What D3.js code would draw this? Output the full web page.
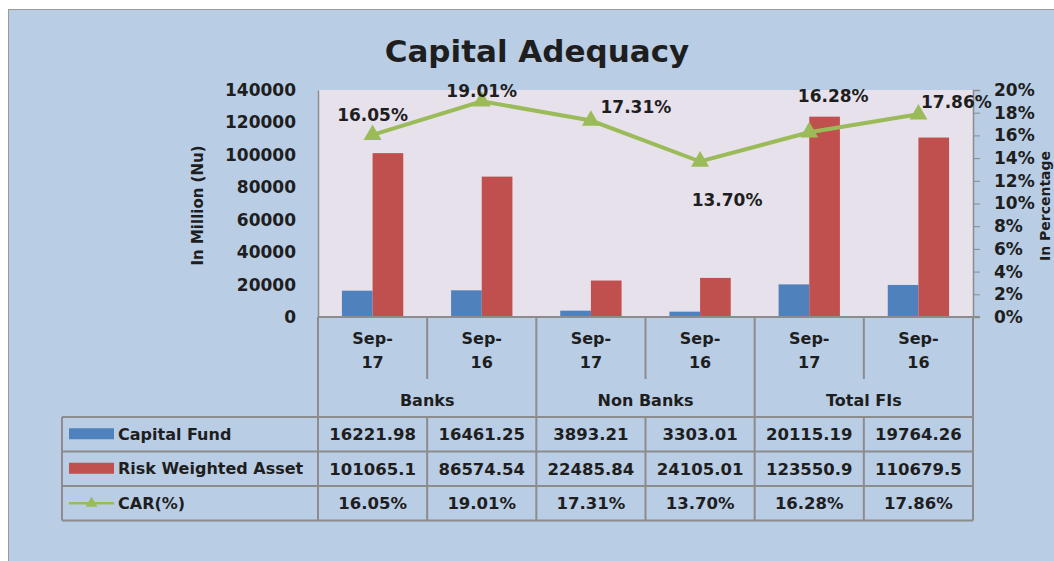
<!DOCTYPE html>
<html>
<head>
<meta charset="utf-8">
<script src="https://cdn.jsdelivr.net/npm/d3@7"></script>
<style>
  html, body { margin: 0; padding: 0; background: #fff; }
  svg { display: block; font-family: "DejaVu Sans", sans-serif; font-weight: 700; }
  text { fill: #1e1e1e; }
</style>
</head>
<body>
<svg id="chart" width="1054" height="561"></svg>
<script>
const periods = ["Sep-17", "Sep-16", "Sep-17", "Sep-16", "Sep-17", "Sep-16"];
const groups = ["Banks", "Non Banks", "Total FIs"];
const capitalFund = [16221.98, 16461.25, 3893.21, 3303.01, 20115.19, 19764.26];
const riskWeighted = [101065.1, 86574.54, 22485.84, 24105.01, 123550.9, 110679.5];
const carPct = [16.05, 19.01, 17.31, 13.70, 16.28, 17.86];
const leftTicks = [0, 20000, 40000, 60000, 80000, 100000, 120000, 140000];
const rightTicks = [0, 2, 4, 6, 8, 10, 12, 14, 16, 18, 20];

// where each CAR label sits relative to its marker (dx, dy)
const carLabelOffset = [[0, -20], [0, -10], [45, -13], [27, 39], [24, -36], [38, -12]];

const colors = { fund: "#4f81bd", rwa: "#c0504d", car: "#9bbb59" };

const svg = d3.select("#chart");
const plot = { left: 318, right: 973, top: 90, bottom: 317 };
const table = { left: 62, catBottom: 379, groupBottom: 417, rowH: 34.5 };

// panel
svg.append("rect")
  .attr("x", 8.5).attr("y", 9.5)
  .attr("width", 1100).attr("height", 600)
  .attr("fill", "#b9cde5")
  .attr("stroke", "#9a9a9a");

svg.append("text")
  .attr("x", 537).attr("y", 62)
  .attr("text-anchor", "middle")
  .attr("font-size", 31)
  .text("Capital Adequacy");

svg.append("rect")
  .attr("x", plot.left).attr("y", plot.top)
  .attr("width", plot.right - plot.left).attr("height", plot.bottom - plot.top)
  .attr("fill", "#e7e1ec");

const idx = d3.range(periods.length);

const x = d3.scaleBand()
  .domain(idx)
  .range([plot.left, plot.right])
  .padding(0);

const xInner = d3.scaleBand()
  .domain(["fund", "rwa"])
  .range([0, x.bandwidth()])
  .paddingInner(0)
  .paddingOuter(0.78);

const y = d3.scaleLinear().domain([0, 140000]).range([plot.bottom, plot.top]);
const y2 = d3.scaleLinear().domain([0, 20]).range([plot.bottom, plot.top]);

// left axis
const leftAxis = svg.append("g")
  .attr("transform", `translate(${plot.left},0)`)
  .call(d3.axisLeft(y).tickValues(leftTicks).tickSize(0).tickPadding(22).tickFormat(d3.format("d")));
leftAxis.select(".domain").attr("stroke", "#8c8c8c").attr("stroke-width", 1.5);
leftAxis.selectAll("text")
  .attr("font-size", 17).attr("font-family", "DejaVu Sans").attr("font-weight", 700).attr("fill", "#1e1e1e");

svg.append("text")
  .attr("transform", `translate(203,${(plot.top + plot.bottom) / 2 + 2}) rotate(-90)`)
  .attr("text-anchor", "middle")
  .attr("font-size", 15)
  .text("In Million (Nu)");

// right axis
const rightAxis = svg.append("g")
  .attr("transform", `translate(${plot.right},0)`)
  .call(d3.axisRight(y2).tickValues(rightTicks).tickSize(7).tickPadding(14).tickFormat(d => d + "%"));
rightAxis.select(".domain").attr("stroke", "#8c8c8c").attr("stroke-width", 1.5);
rightAxis.selectAll(".tick line").attr("stroke", "#8c8c8c");
rightAxis.selectAll("text")
  .attr("font-size", 17).attr("font-family", "DejaVu Sans").attr("font-weight", 700).attr("fill", "#1e1e1e");

svg.append("text")
  .attr("transform", `translate(1050,206) rotate(-90)`)
  .attr("text-anchor", "middle")
  .attr("font-size", 14)
  .text("In Percentage");

// bars
const bars = svg.append("g");
bars.selectAll("rect.fund")
  .data(idx)
  .join("rect")
  .attr("class", "fund")
  .attr("x", i => x(i) + xInner("fund"))
  .attr("width", xInner.bandwidth())
  .attr("y", i => y(capitalFund[i]))
  .attr("height", i => y(0) - y(capitalFund[i]))
  .attr("fill", colors.fund);

bars.selectAll("rect.rwa")
  .data(idx)
  .join("rect")
  .attr("class", "rwa")
  .attr("x", i => x(i) + xInner("rwa"))
  .attr("width", xInner.bandwidth())
  .attr("y", i => y(riskWeighted[i]))
  .attr("height", i => y(0) - y(riskWeighted[i]))
  .attr("fill", colors.rwa);

// CAR line
const cx = i => x(i) + x.bandwidth() / 2;
const line = d3.line().x(i => cx(i)).y(i => y2(carPct[i]));

svg.append("path")
  .datum(idx)
  .attr("d", line)
  .attr("fill", "none")
  .attr("stroke", colors.car)
  .attr("stroke-width", 4);

const tri = d3.symbol().type(d3.symbolTriangle).size(140);
svg.selectAll("path.marker")
  .data(idx)
  .join("path")
  .attr("class", "marker")
  .attr("d", tri)
  .attr("transform", i => `translate(${cx(i)},${y2(carPct[i])})`)
  .attr("fill", colors.car);

svg.selectAll("text.carlabel")
  .data(idx)
  .join("text")
  .attr("class", "carlabel")
  .attr("x", i => cx(i) + carLabelOffset[i][0])
  .attr("y", i => y2(carPct[i]) + carLabelOffset[i][1])
  .attr("dy", "0.35em")
  .attr("text-anchor", "middle")
  .attr("font-size", 17)
  .text(i => carPct[i].toFixed(2) + "%");

// category axis line
svg.append("line")
  .attr("x1", plot.left).attr("x2", plot.right + 7)
  .attr("y1", plot.bottom).attr("y2", plot.bottom)
  .attr("stroke", "#8c8c8c").attr("stroke-width", 2);

// data table
const grid = svg.append("g").attr("stroke", "#8c8c8c").attr("stroke-width", 2);
const tableBottom = table.groupBottom + table.rowH * 3;

idx.forEach(i => {
  const full = i % 2 === 0;
  grid.append("line")
    .attr("x1", x(i)).attr("x2", x(i))
    .attr("y1", full ? plot.bottom : table.groupBottom)
    .attr("y2", tableBottom);
  if (!full) {
    grid.append("line")
      .attr("x1", x(i)).attr("x2", x(i))
      .attr("y1", plot.bottom).attr("y2", table.catBottom);
  }
});
grid.append("line")
  .attr("x1", plot.right).attr("x2", plot.right)
  .attr("y1", plot.bottom).attr("y2", tableBottom);
grid.append("line")
  .attr("x1", table.left).attr("x2", table.left)
  .attr("y1", table.groupBottom).attr("y2", tableBottom);
d3.range(4).forEach(r => {
  grid.append("line")
    .attr("x1", table.left).attr("x2", plot.right)
    .attr("y1", table.groupBottom + r * table.rowH)
    .attr("y2", table.groupBottom + r * table.rowH);
});

const catText = svg.selectAll("text.cat")
  .data(idx)
  .join("text")
  .attr("class", "cat")
  .attr("text-anchor", "middle")
  .attr("font-size", 16);
catText.append("tspan")
  .attr("x", i => cx(i)).attr("y", 344)
  .text(i => periods[i].split("-")[0] + "-");
catText.append("tspan")
  .attr("x", i => cx(i)).attr("y", 368)
  .text(i => periods[i].split("-")[1]);

svg.selectAll("text.group")
  .data(groups)
  .join("text")
  .attr("class", "group")
  .attr("x", (g, k) => x(k * 2 + 1))
  .attr("y", 406)
  .attr("text-anchor", "middle")
  .attr("font-size", 16)
  .text(g => g);

const rows = [
  { name: "Capital Fund", values: capitalFund.map(String), key: "fund" },
  { name: "Risk Weighted Asset", values: riskWeighted.map(String), key: "rwa" },
  { name: "CAR(%)", values: carPct.map(v => v.toFixed(2) + "%"), key: "car" }
];

rows.forEach((row, r) => {
  const midY = table.groupBottom + table.rowH * (r + 0.5);
  if (row.key === "car") {
    svg.append("line")
      .attr("x1", 69).attr("x2", 114)
      .attr("y1", midY).attr("y2", midY)
      .attr("stroke", colors.car).attr("stroke-width", 2.5);
    svg.append("path")
      .attr("d", d3.symbol().type(d3.symbolTriangle).size(60))
      .attr("transform", `translate(91.5,${midY})`)
      .attr("fill", colors.car);
  } else {
    svg.append("rect")
      .attr("x", 69).attr("y", midY - 6)
      .attr("width", 45).attr("height", 11)
      .attr("fill", colors[row.key]);
  }
  svg.append("text")
    .attr("x", 118).attr("y", midY)
    .attr("dy", "0.35em")
    .attr("font-size", 16)
    .text(row.name);
  svg.selectAll(null)
    .data(idx)
    .join("text")
    .attr("x", i => cx(i))
    .attr("y", midY)
    .attr("dy", "0.35em")
    .attr("text-anchor", "middle")
    .attr("font-size", 16.5)
    .text(i => row.values[i]);
});
</script>
</body>
</html>
